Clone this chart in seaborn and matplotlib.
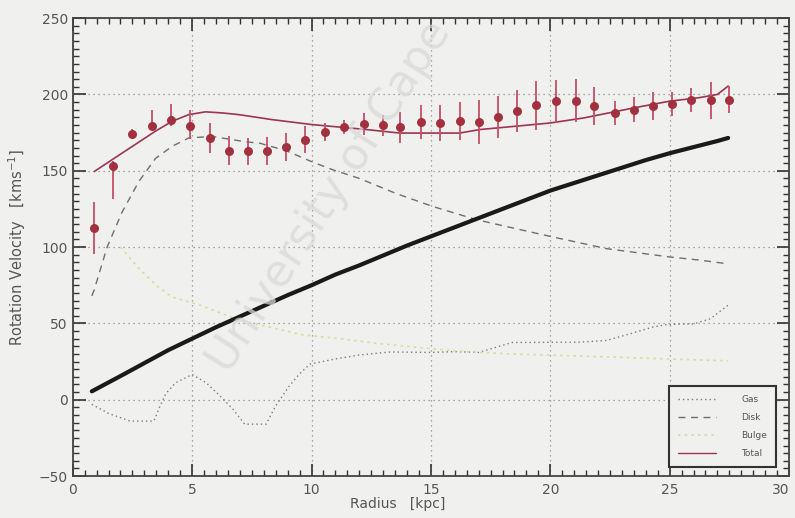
import numpy as np
import pandas as pd
import matplotlib
matplotlib.use("Agg")
import matplotlib.pyplot as plt
import seaborn as sns
from matplotlib.lines import Line2D

# ---------------- data ----------------
obs_r = [0.90, 1.68, 2.48, 3.31, 4.11, 4.92, 5.73, 6.54, 7.32, 8.13, 8.94, 9.74,
         10.55, 11.37, 12.18, 13.00, 13.72, 14.59, 15.40, 16.24, 17.03, 17.82,
         18.61, 19.42, 20.23, 21.06, 21.85, 22.69, 23.50, 24.30, 25.11, 25.91,
         26.72, 27.49]
obs_v = [112.7, 153.3, 174.1, 179.6, 183.5, 179.6, 171.4, 163.2, 162.7, 162.9,
         165.5, 170.4, 175.2, 178.9, 180.7, 179.8, 178.5, 182.0, 181.3, 182.4,
         182.0, 185.3, 189.0, 193.0, 195.6, 196.0, 192.3, 187.9, 190.1, 192.3,
         193.8, 196.2, 196.2, 196.6]
obs_err_lo = [17, 22, 3, 3, 4, 9, 10, 9.5, 9, 9.3, 9, 8.7, 6, 4.5, 7, 7, 10, 11,
              12, 12.5, 14.5, 14, 13.7, 16, 14, 14, 12.6, 8, 8, 9, 8, 8, 12, 9]
obs_err_hi = [17, 3, 3, 10, 10.5, 10, 10, 9.5, 9, 9.3, 9, 8.7, 6, 4.5, 7, 7, 10, 11,
              12, 12.5, 14.5, 14, 13.7, 16, 14, 14, 12.6, 8, 8, 9, 8, 8, 12, 9]

gas_r = [0.8, 1.5, 2.4, 3.4, 3.66, 3.9, 4.3, 5.0, 5.6, 6.2, 6.7, 7.2, 8.1, 8.5,
         9.07, 9.5, 9.94, 11.0, 12.0, 13.3, 15.0, 16.0, 17.0, 18.4, 21.2, 22.35,
         23.3, 24.3, 24.9, 26.0, 26.7, 27.45]
gas_v = [-3, -9, -14, -14, -4, 4, 11, 16.5, 11, 2, -6, -16, -16, -4, 9, 17, 23.4,
         26.7, 29.3, 31.3, 31, 31.5, 31, 37.5, 37.7, 38.8, 43, 47.6, 49.3, 49.7,
         53, 62]

disk_r = [0.8, 0.9, 1.44, 2.07, 2.77, 3.46, 4.16, 4.86, 5.84, 7.23, 7.85, 8.96,
          10.0, 10.9, 12.0, 13.56, 15.1, 16.9, 18.86, 20.0, 22.35, 24.96, 26.3,
          27.45]
disk_v = [68, 72, 100, 123, 143, 158, 166, 171.5, 172.5, 169, 168, 163, 156,
          150.6, 145, 135, 126.5, 118, 111, 107, 99, 93.6, 91.4, 89]

bulge_r = [2.0, 2.77, 3.5, 4.16, 5.33, 7.0, 9.64, 11.2, 12.7, 14.0, 16.0, 18.3,
           20.5, 22.9, 24.9, 27.45]
bulge_v = [100, 86, 75, 67.3, 62, 52, 42.5, 40, 37, 35, 32, 30, 29, 27.8, 26.7,
           25.5]

total_r = [0.9, 2.07, 3.46, 4.16, 4.86, 5.56, 6.26, 6.95, 8.35, 10.0, 12.3, 13.7,
           16.2, 17.05, 20.0, 21.4, 23.5, 25.0, 26.2, 27.0, 27.45]
total_v = [149.5, 161.6, 175.9, 182.4, 186.8, 188.6, 187.9, 186.8, 183.5, 180.3,
           177, 174.7, 174.7, 177, 181.3, 184.6, 191.2, 195.6, 197.8, 200, 205.5]

halo_r = [0.8, 2, 3, 4, 5, 6, 7, 8, 9, 10, 11, 12, 13, 14, 15, 16, 17, 18, 19,
          20, 21, 22, 23, 24, 25, 26, 27, 27.45]
halo_v = [5.5, 15.5, 24, 32.5, 40, 47.5, 54.5, 61.5, 68.5, 75, 82, 88, 94.5, 101,
          107, 113, 119, 125, 131, 137, 142, 147, 152, 157, 161.5, 165.5, 169.5,
          171.5]

legend_labels = ["Gas", "Disk", "Bulge", "Total"]
x_ticks = [0, 5, 10, 15, 20, 25, 30]
y_ticks = [-50, 0, 50, 100, 150, 200, 250]

# ---------------- style ----------------
sns.set_style("ticks")
plt.rcParams["font.family"] = ["DejaVu Sans"]
BG = "#f0f0ef"
TXT = "#555555"

fig = plt.figure(figsize=(7.95, 5.18), dpi=100, facecolor=BG)
ax = fig.add_axes([0.0915, 0.081, 0.9010, 0.884])
ax.set_facecolor(BG)

# scan watermark (behind the data)
fig.text(0.415, 0.62, "University of Cape", rotation=57, fontsize=32,
         color="#d9d9d9", alpha=0.75, ha="center", va="center", zorder=0.5)

# model curves
gas_c, disk_c, bulge_c, total_c = "#7a7a7a", "#6e6e6e", "#d3df98", "#9c3454"
sns.lineplot(x=gas_r, y=gas_v, ax=ax, color=gas_c, lw=1.0, linestyle=(0, (1, 2.2)))
sns.lineplot(x=disk_r, y=disk_v, ax=ax, color=disk_c, lw=1.0, linestyle=(0, (5, 4)))
sns.lineplot(x=bulge_r, y=bulge_v, ax=ax, color=bulge_c, lw=1.2, linestyle=(0, (1.5, 2.5)))
sns.lineplot(x=halo_r, y=halo_v, ax=ax, color="#1a1a1a", lw=3.0)
sns.lineplot(x=total_r, y=total_v, ax=ax, color=total_c, lw=1.2)

# observed points
ax.errorbar(obs_r, obs_v, yerr=[obs_err_lo, obs_err_hi], fmt="none",
            ecolor="#c2506a", elinewidth=1.3, capsize=0, zorder=4)
sns.scatterplot(x=obs_r, y=obs_v, ax=ax, color="#a3303e", s=42,
                edgecolor="#a3303e", linewidth=0, zorder=5)

# axes
ax.set_xlim(0, 30)
ax.set_ylim(-50, 250)
ax.set_xticks(x_ticks)
ax.set_yticks(y_ticks)
ax.set_xticks(np.arange(0, 30.01, 0.5), minor=True)
ax.set_yticks(np.arange(-50, 250.01, 5), minor=True)
ax.tick_params(which="both", direction="in", top=True, right=True,
               colors="#333333", labelcolor=TXT, labelsize=10)
ax.tick_params(which="major", length=9, width=1.2)
ax.tick_params(which="minor", length=4, width=1.0)
ax.tick_params(axis="x", pad=5)
xt_labels = ax.get_xticklabels()
xt_labels[-1].set_ha("right")
ax.grid(True, which="major", linestyle=(0, (1, 3)), color="#8a8a8a", lw=0.9)
for s in ax.spines.values():
    s.set_color("#444444")
    s.set_linewidth(1.3)

ax.set_xlabel("Radius   [kpc]", color=TXT, fontsize=10, labelpad=2)
ax.xaxis.set_label_coords(0.453, -0.045)
ax.set_ylabel("Rotation Velocity   [kms$^{-1}$]", color=TXT, fontsize=10.5, labelpad=8)

handles = [
    Line2D([], [], color=gas_c, lw=1.0, linestyle=(0, (1, 2.2))),
    Line2D([], [], color=disk_c, lw=1.0, linestyle=(0, (5, 4))),
    Line2D([], [], color=bulge_c, lw=1.2, linestyle=(0, (1.5, 2.5))),
    Line2D([], [], color=total_c, lw=1.0),
]
leg = ax.legend(handles, legend_labels, loc="lower right", fontsize=6.5,
                frameon=True, fancybox=False, framealpha=1, facecolor=BG,
                edgecolor="#333333", handlelength=4.2, handletextpad=2.8,
                borderpad=1.0, labelspacing=1.0, borderaxespad=0.0,
                bbox_to_anchor=(0.982, 0.02))
leg.get_frame().set_linewidth(1.5)
for t in leg.get_texts():
    t.set_color(TXT)

fig.savefig("out.png", dpi=100, facecolor=BG)
